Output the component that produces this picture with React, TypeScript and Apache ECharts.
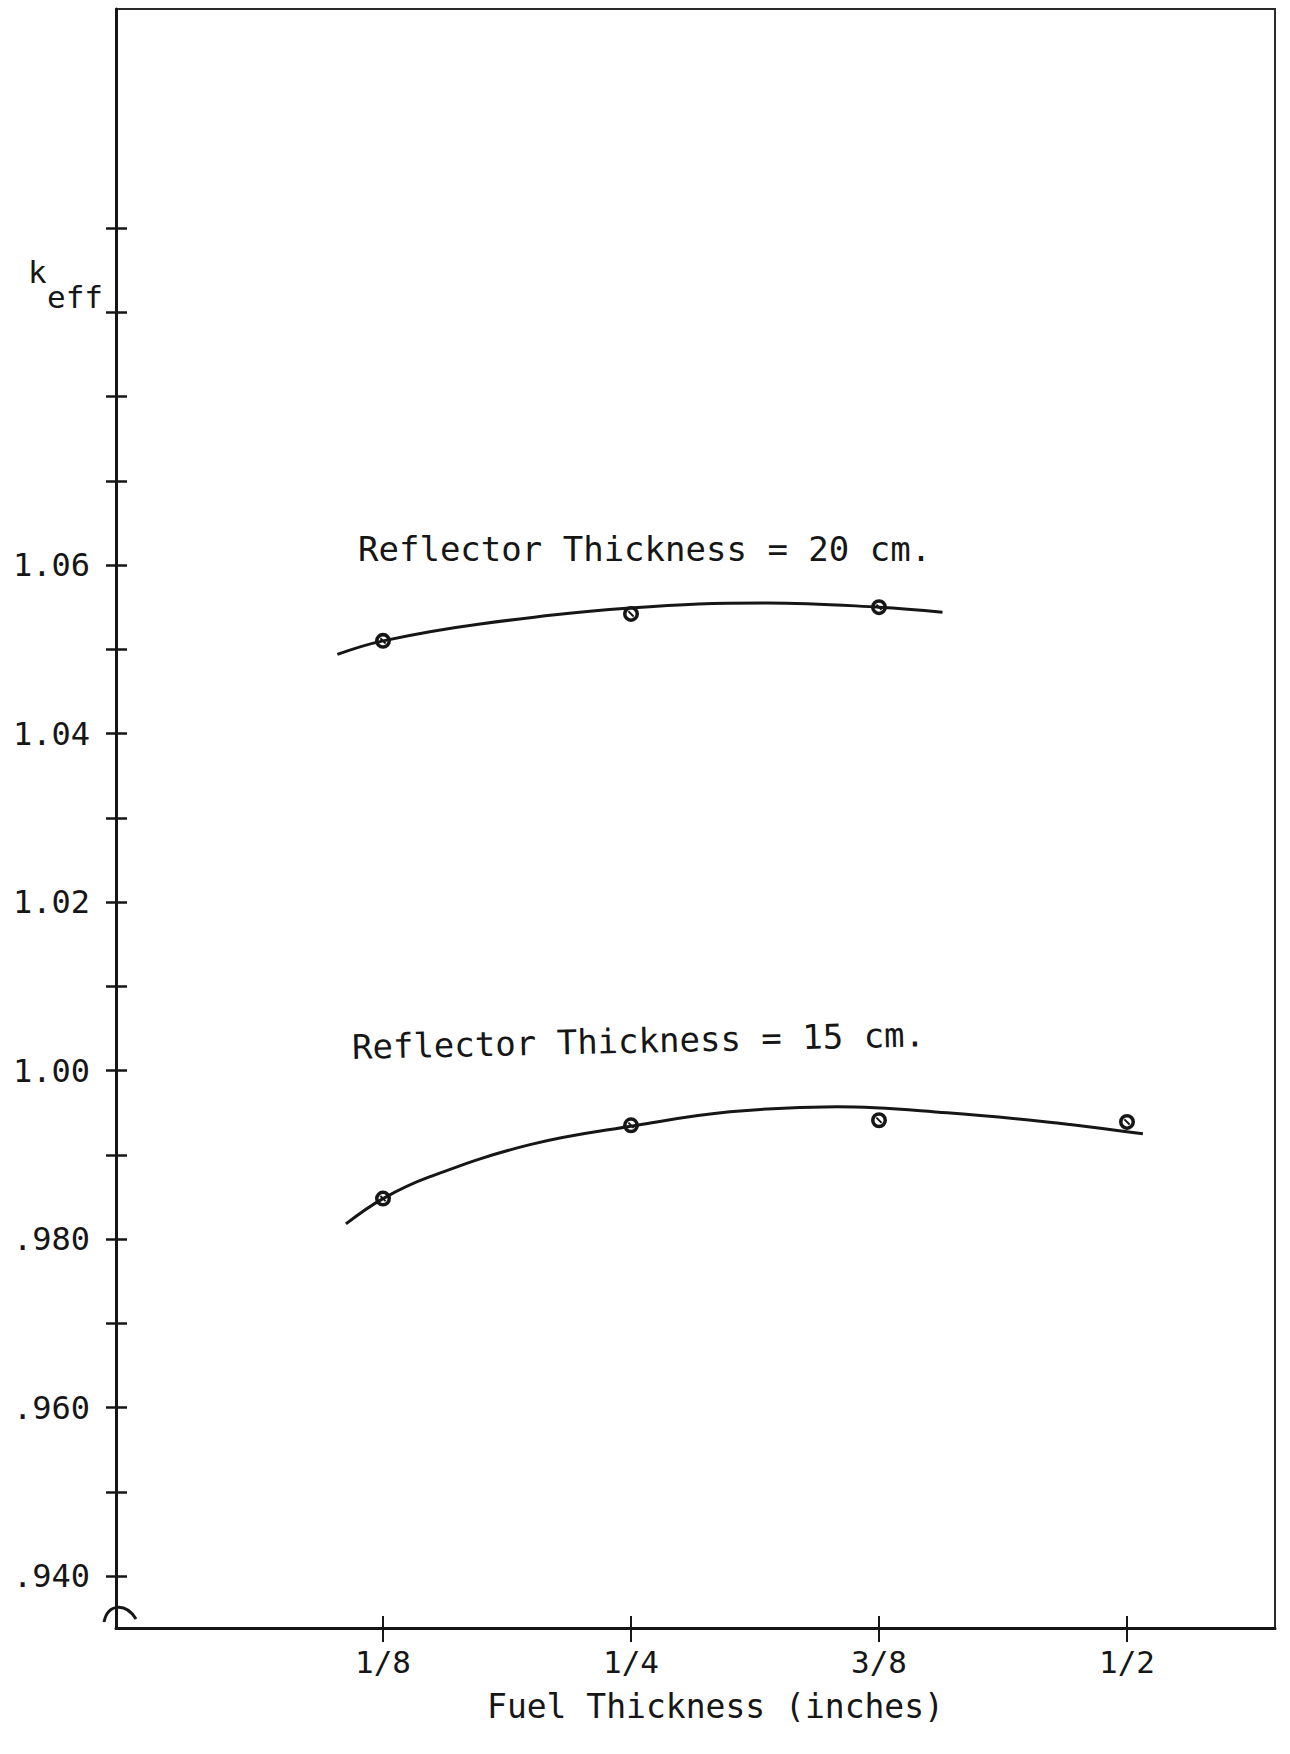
import React, { useEffect, useRef } from "react";
import * as echarts from "echarts";

// ---- data ----
const fuelThickness = [0.125, 0.25, 0.375, 0.5];
const keff20 = [1.051, 1.0542, 1.055];
const keff15 = [0.9848, 0.9935, 0.9941, 0.9939];

const curve20X = [0.102, 0.125, 0.174, 0.2495, 0.3185, 0.375, 0.407];
const curve20Y = [1.0494, 1.051, 1.053, 1.0549, 1.0555, 1.055, 1.0544];

const curve15X = [0.1063, 0.125, 0.1487, 0.1991, 0.253, 0.2999, 0.3538, 0.4093, 0.4597, 0.508];
const curve15Y = [0.9818, 0.9848, 0.9874, 0.9912, 0.9935, 0.9951, 0.9957, 0.995, 0.9939, 0.9925];

const xTickValues = [0.125, 0.25, 0.375, 0.5];
const xTickLabels = ["1/8", "1/4", "3/8", "1/2"];

const yTickValues = [0.94, 0.95, 0.96, 0.97, 0.98, 0.99, 1.0, 1.01, 1.02, 1.03, 1.04, 1.05, 1.06, 1.07, 1.08, 1.09, 1.1];
const yLabelValues = [0.94, 0.96, 0.98, 1.0, 1.02, 1.04, 1.06];
const yLabelTexts = [".940", ".960", ".980", "1.00", "1.02", "1.04", "1.06"];

const annotation20 = "Reflector Thickness = 20 cm.";
const annotation15 = "Reflector Thickness = 15 cm.";
const xAxisTitle = "Fuel Thickness (inches)";

const FONT = "'DejaVu Sans Mono', 'Liberation Mono', monospace";
const INK = "#161616";

// ring with a diagonal bar: a hand-drawn "⊘"-like marker
const MARKER =
  "path://M10,0 A10,10 0 1,1 10,20 A10,10 0 1,1 10,0 Z " +
  "M10,4.4 A5.6,5.6 0 1,0 10,15.6 A5.6,5.6 0 1,0 10,4.4 Z " +
  "M5.9,7.6 L7.6,5.9 L14.1,12.4 L12.4,14.1 Z";

function lookup(values: number[], labels: string[], v: number): string {
  for (let i = 0; i < values.length; i++) {
    if (Math.abs(values[i] - v) < 1e-6) return labels[i];
  }
  return "";
}

export default function App() {
  const ref = useRef<HTMLDivElement>(null);

  useEffect(() => {
    if (!ref.current) return;
    const chart = echarts.init(ref.current, null, { renderer: "svg" });

    const xMin = -0.00958;
    const xMax = 0.5746;
    const yMin = 0.93383;
    const yMax = 1.126;

    const baseX = {
      type: "value" as const,
      min: xMin,
      max: xMax,
      position: "bottom" as const,
      splitLine: { show: false },
    };
    const baseY = {
      type: "value" as const,
      min: yMin,
      max: yMax,
      position: "left" as const,
      splitLine: { show: false },
    };

    chart.setOption({
      animation: false,
      backgroundColor: "#ffffff",
      grid: {
        left: 116,
        right: 15,
        top: 9,
        bottom: 126,
        show: true,
        borderColor: "#2a2a2a",
        borderWidth: 2,
        backgroundColor: "transparent",
      },
      xAxis: [
        {
          ...baseX,
          name: xAxisTitle,
          nameLocation: "middle",
          nameGap: 62,
          nameTextStyle: { fontFamily: FONT, fontSize: 33, color: INK, padding: [0, 0, 0, 40] },
          axisLine: { show: true, onZero: false, lineStyle: { color: INK, width: 3 } },
          axisTick: { show: true, length: 14, customValues: xTickValues, lineStyle: { color: INK, width: 2 } },
          axisLabel: {
            show: true,
            customValues: xTickValues,
            margin: 18,
            fontFamily: FONT,
            fontSize: 31,
            color: INK,
            formatter: (v: number) => lookup(xTickValues, xTickLabels, v),
          },
        },
        {
          ...baseX,
          axisLine: { show: false, onZero: false },
          axisTick: { show: true, inside: true, length: 12, customValues: xTickValues, lineStyle: { color: INK, width: 2 } },
          axisLabel: { show: false },
        },
      ],
      yAxis: [
        {
          ...baseY,
          axisLine: { show: true, onZero: false, lineStyle: { color: INK, width: 3 } },
          axisTick: { show: true, length: 10, customValues: yTickValues, lineStyle: { color: INK, width: 2.5 } },
          axisLabel: {
            show: true,
            customValues: yLabelValues,
            margin: 26,
            fontFamily: FONT,
            fontSize: 32,
            color: INK,
            formatter: (v: number) => lookup(yLabelValues, yLabelTexts, v),
          },
        },
        {
          ...baseY,
          axisLine: { show: false, onZero: false },
          axisTick: { show: true, inside: true, length: 11, customValues: yTickValues, lineStyle: { color: INK, width: 2.5 } },
          axisLabel: { show: false },
        },
      ],
      graphic: [
        { type: "text", left: 28, top: 256, style: { text: "k", font: `31px ${FONT}`, fill: INK } },
        { type: "text", left: 47, top: 281, style: { text: "eff", font: `31px ${FONT}`, fill: INK } },
        {
          type: "text",
          x: 358,
          y: 549,
          style: { text: annotation20, font: `34px ${FONT}`, fill: INK, verticalAlign: "middle", align: "left" },
        },
        {
          type: "text",
          x: 352,
          y: 1047,
          rotation: 0.022,
          originX: 0,
          originY: 0,
          style: { text: annotation15, font: `34px ${FONT}`, fill: INK, verticalAlign: "middle", align: "left" },
        },
        {
          type: "bezierCurve",
          shape: { x1: 104, y1: 1622, cpx1: 108, cpy1: 1603, cpx2: 126, cpy2: 1603, x2: 136, y2: 1619 },
          style: { stroke: INK, lineWidth: 3, fill: null },
          z: 100,
        },
      ],
      series: [
        {
          type: "line",
          name: "curve20",
          data: curve20X.map((x, i) => [x, curve20Y[i]]),
          smooth: 0.4,
          showSymbol: false,
          lineStyle: { color: INK, width: 3 },
          z: 2,
        },
        {
          type: "line",
          name: "curve15",
          data: curve15X.map((x, i) => [x, curve15Y[i]]),
          smooth: 0.4,
          showSymbol: false,
          lineStyle: { color: INK, width: 3 },
          z: 2,
        },
        {
          type: "scatter",
          name: "Reflector 20 cm",
          data: keff20.map((y, i) => [fuelThickness[i], y]),
          symbol: MARKER,
          symbolSize: 16,
          itemStyle: { color: INK, opacity: 1 },
          z: 5,
        },
        {
          type: "scatter",
          name: "Reflector 15 cm",
          data: keff15.map((y, i) => [fuelThickness[i], y]),
          symbol: MARKER,
          symbolSize: 16,
          itemStyle: { color: INK, opacity: 1 },
          z: 5,
        },
      ],
    });

    return () => chart.dispose();
  }, []);

  return (
    <div
      ref={ref}
      style={{ position: "absolute", left: 0, top: 0, width: 1290, height: 1754, background: "#fff" }}
    />
  );
}
